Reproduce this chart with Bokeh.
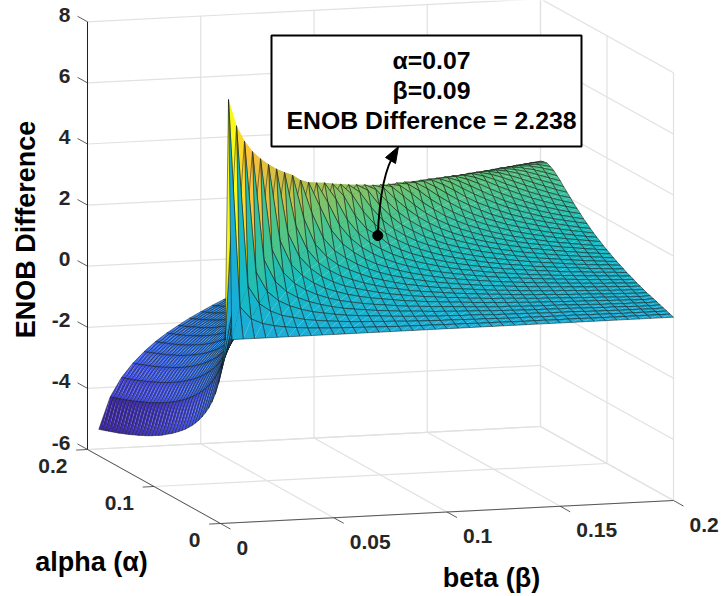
from bokeh.plotting import figure
from bokeh.models import Range1d
from bokeh.core.properties import value
from bokeh.embed import file_html
from bokeh.resources import INLINE
import numpy as np

ALPHA = [0.000,0.005,0.010,0.015,0.020,0.025,0.030,0.035,0.040,0.045,0.050,0.055,0.060,0.065,0.070,0.075,0.080,0.085,0.090,0.095,0.100,
         0.105,0.110,0.115,0.120,0.125,0.130,0.135,0.140,0.145,0.150,0.155,0.160,0.165,0.170,0.175,0.180,0.185,0.190,0.195,0.200]
BETA = [0.005,0.010,0.015,0.020,0.025,0.030,0.035,0.040,0.045,0.050,0.055,0.060,0.065,0.070,0.075,0.080,0.085,0.090,0.095,0.100,
        0.105,0.110,0.115,0.120,0.125,0.130,0.135,0.140,0.145,0.150,0.155,0.160,0.165,0.170,0.175,0.180,0.185,0.190,0.195,0.200]

# ENOB difference read per beta column, from alpha = 0 upward.
# Columns stop where the surface is hidden behind its own ridge.
Z = [
[0,7.8,-.14,-1.1,-1.68,-2.09,-2.41,-2.67,-2.89,-3.08,-3.25,-3.4,-3.54,-3.66,-3.78,-3.88,-3.98,-4.07,-4.16,-4.24,-4.32,-4.4,-4.47,-4.53,-4.6,-4.66,-4.72,-4.77,-4.83,-4.88,-4.93,-4.98,-5.03,-5.07,-5.12,-5.16,-5.2,-5.24,-5.28,-5.32,-5.36],
[0,1.0,6.86,.9,-.14,-.7,-1.1,-1.42,-1.68,-1.9,-2.09,-2.26,-2.41,-2.54,-2.67,-2.78,-2.89,-2.99,-3.08,-3.17,-3.25,-3.33,-3.4,-3.47,-3.54,-3.6,-3.66,-3.72,-3.78,-3.83,-3.88,-3.93,-3.98,-4.03,-4.07,-4.12,-4.16,-4.2,-4.24,-4.28,-4.32],
[0,.58,1.6,6.28,1.32,.41,-.14,-.54,-.85,-1.1,-1.32,-1.51,-1.68,-1.83,-1.96,-2.09,-2.2,-2.31,-2.41,-2.5,-2.58,-2.67,-2.74,-2.82,-2.89,-2.95,-3.02,-3.08,-3.14,-3.19,-3.25,-3.3,-3.35,-3.4,-3.45,-3.49,-3.54,-3.58,-3.62,-3.66,-3.7],
[0,.41,1.0,1.99,5.86,1.68,.8,.26,-.14,-.45,-.7,-.92,-1.1,-1.27,-1.42,-1.56,-1.68,-1.79,-1.9,-2.0,-2.09,-2.17,-2.26,-2.33,-2.41,-2.48,-2.54,-2.61,-2.67,-2.72,-2.78,-2.84,-2.89,-2.94,-2.99,-3.03,-3.08,-3.12,-3.17,-3.21,-3.25],
[0,.32,.74,1.32,2.31,5.54,1.94,1.09,.56,.17,-.14,-.39,-.6,-.79,-.96,-1.1,-1.24,-1.36,-1.48,-1.58,-1.68,-1.77,-1.86,-1.94,-2.01,-2.09,-2.16,-2.22,-2.29,-2.35,-2.41,-2.46,-2.52,-2.57,-2.62,-2.67,-2.71,-2.76,-2.8,-2.85,-2.89],
[0,.26,.58,1.0,1.57,2.56,5.28,2.15,1.32,.8,.41,.12,-.14,-.36,-.54,-.7,-.85,-.98,-1.1,-1.22,-1.32,-1.42,-1.51,-1.6,-1.68,-1.76,-1.83,-1.9,-1.96,-2.03,-2.09,-2.15,-2.2,-2.26,-2.31,-2.36,-2.41,-2.45,-2.5,-2.54,-2.58],
[0,.22,.49,.81,1.22,1.79,2.78,5.05,2.4,1.5,1.0,.62,.32,.07,-.14,-.32,-.49,-.63,-.77,-.89,-1.0,-1.1,-1.2,-1.29,-1.38,-1.46,-1.54,-1.61,-1.68,-1.74,-1.81,-1.87,-1.93,-1.98,-2.04,-2.09,-2.14,-2.19,-2.23,-2.28,-2.32],
[0,.19,.41,.68,1.0,1.41,1.97,2.94,4.86,2.47,1.68,1.17,.8,.5,.26,.05,-.14,-.3,-.45,-.58,-.7,-.81,-.92,-1.01,-1.1,-1.19,-1.27,-1.34,-1.42,-1.49,-1.56,-1.62,-1.68,-1.74,-1.79,-1.84,-1.9,-1.95,-2.0,-2.04,-2.09],
[0,.17,.36,.58,.85,1.17,1.58,2.15,3.09,4.69,2.55,1.82,1.32,.95,.66,.41,.21,.03,-.14,-.28,-.41,-.54,-.65,-.75,-.85,-.94,-1.02,-1.1,-1.18,-1.25,-1.32,-1.39,-1.45,-1.51,-1.57,-1.62,-1.68,-1.73,-1.78,-1.83,-1.87],
[0,.15,.32,.52,.74,1.0,1.32,1.74,2.3,3.25,4.45,2.6,1.94,1.45,1.09,.8,.56,.35,.17,.01,-.14,-.27,-.39,-.5,-.6,-.7,-.79,-.88,-.96,-1.03,-1.1,-1.17,-1.24,-1.3,-1.36,-1.42,-1.48,-1.53,-1.58,-1.63,-1.68],
[0,.14,.29,.46,.65,.87,1.13,1.45,1.84,2.39,3.35,4.3,2.75,2.03,1.56,1.21,.92,.68,.48,.3,.14,-.01,-.14,-.26,-.37,-.47,-.57,-.66,-.74,-.82,-.9,-.97,-1.04,-1.1,-1.17,-1.23,-1.28,-1.34,-1.39,-1.45,-1.49],
[0,.13,.26,.41,.58,.77,1.0,1.26,1.57,1.97,2.52,3.49,4.2,2.85,2.13,1.68,1.32,1.04,.8,.6,.41,.26,.11,-.02,-.14,-.25,-.35,-.45,-.54,-.62,-.7,-.78,-.85,-.92,-.98,-1.04,-1.1,-1.16,-1.22,-1.27,-1.32],
[0,.12,.24,.38,.53,.7,.89,1.11,1.37,1.68,2.08,2.7,3.54,4.12,2.82,2.19,1.75,1.41,1.13,.9,.7,.52,.36,.22,.09,-.03,-.14,-.24,-.33,-.42,-.51,-.59,-.66,-.74,-.8,-.87,-.93,-.99,-1.05,-1.1,-1.16],
[0,.11,.23,.35,.49,.64,.81,1.01,1.23,1.5,1.82,2.23,2.79,3.57,4.01,3.25,2.56,2.07,1.69,1.39,1.15],
[0,.1,.21,.33,.45,.59,.74,.92,1.11,1.34,1.6,1.93,2.33,2.88,3.59,3.92,3.25,2.62,2.14,1.77,1.48,1.23],
[0,.09,.2,.3,.42,.55,.69,.84,1.01,1.2,1.43,1.69,2.01,2.41,2.93,3.57,3.82,3.25,2.65,2.2,1.84,1.55,1.31],
[0,.09,.18,.28,.39,.51,.64,.77,.92,1.1,1.29,1.51,1.78,2.09,2.48,2.99,3.56,3.74,3.24,2.7,2.26,1.91,1.63,1.39],
[0,.08,.17,.26,.37,.47,.59,.72,.86,1.01,1.18,1.38,1.6,1.86,2.238,2.56,3.04,3.54,3.66,3.21,2.71,2.3,1.96,1.68,1.45,1.24],
[0,.08,.16,.25,.35,.45,.56,.67,.79,.93,1.09,1.26,1.45,1.67,1.93,2.24,2.61,3.05,3.49,3.57,3.2,2.74,2.34,2.02,1.75,1.51,1.31],
[0,.07,.15,.23,.32,.42,.52,.63,.74,.87,1.01,1.16,1.33,1.52,1.74,2.0,2.3,2.66,3.07,3.46,3.5,3.16,2.75,2.37,2.06,1.8,1.57,1.37],
[0,.07,.15,.23,.31,.4,.5,.6,.7,.81,.94,1.08,1.23,1.4,1.59,1.81,2.06,2.35,2.7,3.08,3.42,3.44,3.15,2.76,2.41,2.1,1.84,1.62,1.43],
[0,.07,.14,.21,.29,.38,.47,.56,.66,.76,.88,1.01,1.14,1.3,1.47,1.66,1.87,2.13,2.41,2.75,3.1,3.38,3.4,3.12,2.77,2.43,2.13,1.89,1.67,1.48,1.3],
[0,.06,.13,.21,.28,.36,.45,.54,.62,.72,.83,.94,1.07,1.21,1.36,1.53,1.72,1.93,2.18,2.46,2.78,3.11,3.35,3.35,3.09,2.77,2.45,2.17,1.93,1.71,1.53,1.35],
[0,.06,.13,.2,.27,.34,.42,.5,.59,.68,.78,.89,1.01,1.13,1.27,1.42,1.59,1.78,1.99,2.23,2.5,2.8,3.11,3.31,3.29,3.07,2.77,2.47,2.19,1.96,1.75,1.56,1.4],
[0,.06,.12,.18,.25,.32,.4,.48,.56,.65,.74,.84,.95,1.06,1.19,1.33,1.48,1.64,1.83,2.04,2.27,2.54,2.82,3.1,3.28,3.25,3.05,2.76,2.47,2.22,1.99,1.79,1.61,1.45],
[0,.05,.11,.18,.24,.3,.38,.45,.53,.61,.7,.8,.9,1.01,1.12,1.25,1.38,1.53,1.7,1.88,2.08,2.31,2.57,2.84,3.08,3.24,3.21,3.01,2.75,2.49,2.24,2.02,1.82,1.64,1.48,1.34],
[0,.05,.11,.17,.23,.3,.36,.44,.51,.58,.67,.76,.85,.95,1.06,1.18,1.3,1.44,1.59,1.75,1.93,2.13,2.35,2.6,2.85,3.07,3.2,3.16,2.99,2.74,2.49,2.26,2.04,1.85,1.68,1.52,1.38],
[0,.05,.11,.17,.22,.28,.35,.42,.48,.56,.64,.72,.81,.9,1.0,1.11,1.22,1.35,1.49,1.63,1.8,1.97,2.17,2.38,2.62,2.86,3.06,3.16,3.12,2.95,2.73,2.5,2.27,2.07,1.88,1.71,1.55,1.41],
[0,.05,.1,.16,.21,.27,.33,.4,.46,.53,.61,.69,.77,.86,.95,1.05,1.16,1.28,1.4,1.53,1.68,1.84,2.02,2.2,2.42,2.63,2.85,3.03,3.12,3.08,2.93,2.72,2.5,2.28,2.08,1.9,1.74,1.59,1.45],
[0,.04,.1,.15,.21,.26,.32,.38,.44,.51,.58,.66,.74,.82,.91,1.0,1.1,1.21,1.32,1.45,1.58,1.72,1.88,2.05,2.24,2.43,2.65,2.85,3.01,3.08,3.03,2.9,2.7,2.49,2.29,2.1,1.92,1.76,1.61,1.48,1.35],
[0,.05,.1,.15,.2,.26,.31,.37,.43,.49,.56,.63,.71,.78,.87,.96,1.05,1.15,1.25,1.37,1.49,1.62,1.77,1.92,2.08,2.27,2.47,2.66,2.85,2.99,3.05,3.0,2.87,2.68,2.49,2.29,2.11,1.94,1.79,1.64,1.51],
[0,.05,.1,.15,.2,.25,.3,.36,.41,.47,.54,.61,.68,.75,.83,.91,1.0,1.09,1.19,1.3,1.41,1.53,1.66,1.8,1.95,2.12,2.3,2.48,2.66,2.84,2.96,3.01,2.96,2.84,2.66,2.48,2.3,2.12,1.95,1.8,1.66],
[0,.04,.09,.14,.19,.23,.29,.34,.39,.46,.52,.58,.65,.72,.8,.87,.96,1.04,1.14,1.23,1.34,1.45,1.57,1.7,1.84,1.98,2.15,2.31,2.49,2.67,2.82,2.93,2.97,2.92,2.81,2.65,2.47,2.3,2.13,1.97,1.83],
[0,.04,.09,.13,.18,.23,.28,.33,.38,.44,.5,.56,.63,.69,.76,.84,.92,1.0,1.09,1.18,1.28,1.38,1.49,1.61,1.74,1.87,2.02,2.17,2.34,2.51,2.66,2.81,2.9,2.93,2.89,2.78,2.63,2.47,2.3,2.14,1.98],
[0,.04,.08,.13,.17,.21,.27,.32,.37,.42,.48,.54,.6,.67,.73,.81,.88,.96,1.04,1.13,1.22,1.31,1.42,1.53,1.65,1.77,1.91,2.05,2.2,2.36,2.51,2.66,2.79,2.88,2.9,2.86,2.75,2.61,2.45,2.3,2.14],
[0,.04,.08,.12,.17,.21,.26,.31,.35,.41,.46,.52,.58,.64,.71,.78,.84,.92,1.0,1.08,1.16,1.25,1.35,1.45,1.56,1.68,1.8,1.93,2.07,2.22,2.37,2.52,2.66,2.78,2.85,2.87,2.82,2.72,2.59,2.44,2.29],
[0,.04,.08,.12,.16,.2,.25,.29,.34,.39,.45,.5,.56,.62,.68,.74,.81,.88,.96,1.04,1.12,1.2,1.29,1.39,1.49,1.6,1.71,1.83,1.96,2.1,2.24,2.38,2.52,2.65,2.76,2.82,2.83,2.79,2.69,2.57,2.43],
[0,.04,.08,.12,.15,.2,.24,.28,.33,.38,.43,.49,.54,.6,.66,.72,.78,.85,.92,.99,1.07,1.15,1.24,1.33,1.42,1.52,1.63,1.74,1.86,1.98,2.12,2.25,2.39,2.52,2.64,2.74,2.8,2.8,2.75,2.66,2.55],
[0,.04,.08,.11,.15,.19,.23,.27,.32,.37,.42,.47,.52,.58,.64,.69,.76,.82,.89,.96,1.03,1.1,1.19,1.27,1.36,1.45,1.56,1.66,1.77,1.89,2.01,2.13,2.26,2.4,2.52,2.63,2.72,2.77,2.77,2.72,2.63],
[0,.04,.08,.12,.16,.2,.24,.28,.31,.36,.41,.45,.51,.56,.61,.67,.73,.79,.85,.92,.99,1.06,1.14,1.22,1.3,1.39,1.49,1.58,1.69,1.8,1.91,2.03,2.15,2.27,2.4,2.51,2.62,2.69,2.74,2.73,2.69],
]

BETA_TICKS = [0, 0.05, 0.1, 0.15, 0.2]
BETA_LABELS = ["0", "0.05", "0.1", "0.15", "0.2"]
ALPHA_TICKS = [0, 0.1, 0.2]
ALPHA_LABELS = ["0", "0.1", "0.2"]
Z_TICKS = [-6, -4, -2, 0, 2, 4, 6, 8]
Z_LABELS = ["-6", "-4", "-2", "0", "2", "4", "6", "8"]
NOTE_ALPHA, NOTE_BETA, NOTE_Z = 0.07, 0.09, 2.238
NOTE_LINES = ["α=0.07", "β=0.09", "ENOB Difference = 2.238"]

PARULA_T = [0, .125, .25, .375, .5, .625, .75, .875, 1]
PARULA = [(62,38,168), (70,83,240), (42,122,240), (27,170,223), (21,188,192), (88,198,128), (187,191,74), (254,193,58), (249,251,21)]
ZMIN, ZMAX = -5.36, 7.86

def proj(a, b, z):
    x = 220 + np.asarray(b) / .2 * 453 - np.asarray(a) / .2 * 133
    y = 523 - np.asarray(b) / .2 * 23 - np.asarray(a) / .2 * 74 - (np.asarray(z) + 6) * 30.55
    return x, y

def colour(z):
    t = (z - ZMIN) / (ZMAX - ZMIN)
    rgb = [int(round(np.interp(t, PARULA_T, [c[k] for c in PARULA]))) for k in range(3)]
    return "#%02x%02x%02x" % tuple(rgb)

p = figure(width=723, height=596, x_range=Range1d(0, 723), y_range=Range1d(596, 0),
           output_backend="svg", toolbar_location=None, min_border=0,
           x_axis_type=None, y_axis_type=None, outline_line_color=None)
p.grid.visible = False

GRID = "#e1e1e1"
AX = "#333333"
Amax, Bmax, Zlo, Zhi = .2, .2, -6, 8

def seg(a0, b0, z0, a1, b1, z1, color, width):
    x0, y0 = proj(a0, b0, z0)
    x1, y1 = proj(a1, b1, z1)
    p.line([float(x0), float(x1)], [float(y0), float(y1)], line_color=color, line_width=width)

for z in Z_TICKS:
    seg(Amax, 0, z, Amax, Bmax, z, GRID, 1.2)
    seg(Amax, Bmax, z, 0, Bmax, z, GRID, 1.2)
for b in BETA_TICKS:
    seg(0, b, Zlo, Amax, b, Zlo, GRID, 1.2)
    seg(Amax, b, Zlo, Amax, b, Zhi, GRID, 1.2)
for a in ALPHA_TICKS:
    seg(a, 0, Zlo, a, Bmax, Zlo, GRID, 1.2)
    seg(a, Bmax, Zlo, a, Bmax, Zhi, GRID, 1.2)

seg(Amax, 0, Zlo, 0, 0, Zlo, AX, .8)
seg(0, 0, Zlo, 0, Bmax, Zlo, AX, .8)
seg(Amax, 0, Zlo, Amax, 0, Zhi, "#222222", 1.0)
for b in BETA_TICKS:
    seg(0, b, Zlo, -.015, b, Zlo, AX, .8)
for a in ALPHA_TICKS:
    seg(a, 0, Zlo, a, -.005, Zlo, AX, .8)
for z in Z_TICKS:
    seg(Amax, 0, z, Amax + .015, 0, z, AX, .8)

# Every cell is filled as two triangles (far one first) and then outlined, all in one glyph so the
# far-to-near order is kept.
cells = []
for j in range(len(BETA) - 1):
    n = min(len(Z[j]), len(Z[j + 1]))
    for i in range(n - 1):
        a = [ALPHA[i], ALPHA[i + 1], ALPHA[i + 1], ALPHA[i]]
        b = [BETA[j], BETA[j], BETA[j + 1], BETA[j + 1]]
        z = [Z[j][i], Z[j][i + 1], Z[j + 1][i + 1], Z[j + 1][i]]
        x, y = proj(a, b, z)
        depth = 370 * sum(a) + 115 * sum(b)
        cells.append((depth, x.tolist(), y.tolist(), colour(Z[j][i])))
cells.sort(key=lambda c: -c[0])
xs, ys, fills, fa, la = [], [], [], [], []
for _, x, y, c in cells:
    for idx in ([0, 1, 2], [0, 2, 3]):
        xs.append([x[k] for k in idx]); ys.append([y[k] for k in idx])
        fills.append(c); fa.append(1.0); la.append(0.0)
    xs.append(x); ys.append(y); fills.append(c); fa.append(0.0); la.append(.85)
p.patches(xs, ys, fill_color=fills, fill_alpha=fa, line_color="#141414", line_width=.6, line_alpha=la)

FONT = value("Liberation Sans")
def txt(xs, ys, ts, size, color="#262626", align="left", angle=0):
    p.text(xs, ys, text=ts, text_font=FONT, text_font_style="bold", text_font_size=size,
           text_color=color, text_align=align, text_baseline="middle", angle=angle)

zx, zy = proj([Amax] * len(Z_TICKS), [0] * len(Z_TICKS), Z_TICKS)
txt((zx - 17).tolist(), (zy - 7).tolist(), Z_LABELS, "21px", align="right")
ax, ay = proj(ALPHA_TICKS, [0] * 3, [Zlo] * 3)
txt((ax - 20).tolist(), (ay + 16).tolist(), ALPHA_LABELS, "21px", align="right")
bx, by = proj([0] * 5, BETA_TICKS, [Zlo] * 5)
txt((bx + 16).tolist(), (by + 24).tolist(), BETA_LABELS, "21px")

txt([25], [229], ["ENOB Difference"], "27px", "#000000", "center", np.pi / 2)
txt([91], [561], ["alpha (α)"], "27px", "#000000", "center")
txt([491], [577], ["beta (β)"], "27px", "#000000", "center")

mx, my = proj(NOTE_ALPHA, NOTE_BETA, NOTE_Z)
p.bezier(x0=[float(mx)], y0=[float(my)], x1=[395], y1=[152], cx0=[379], cy0=[195], cx1=[384], cy1=[167],
         line_color="#000000", line_width=2)
p.patch([398, 385, 395], [146, 157, 163], fill_color="#000000", line_color="#000000")
p.scatter([float(mx)], [float(my)], size=10, marker="circle", fill_color="#000000", line_color="#000000")

p.quad(left=[271], right=[581], top=[35], bottom=[146], fill_color="#ffffff", line_color="#000000", line_width=2)
txt([431, 431, 431], [60, 90, 120], NOTE_LINES, "24.8px", "#000000", "center")

open("out.html", "w").write(file_html(p, INLINE))
